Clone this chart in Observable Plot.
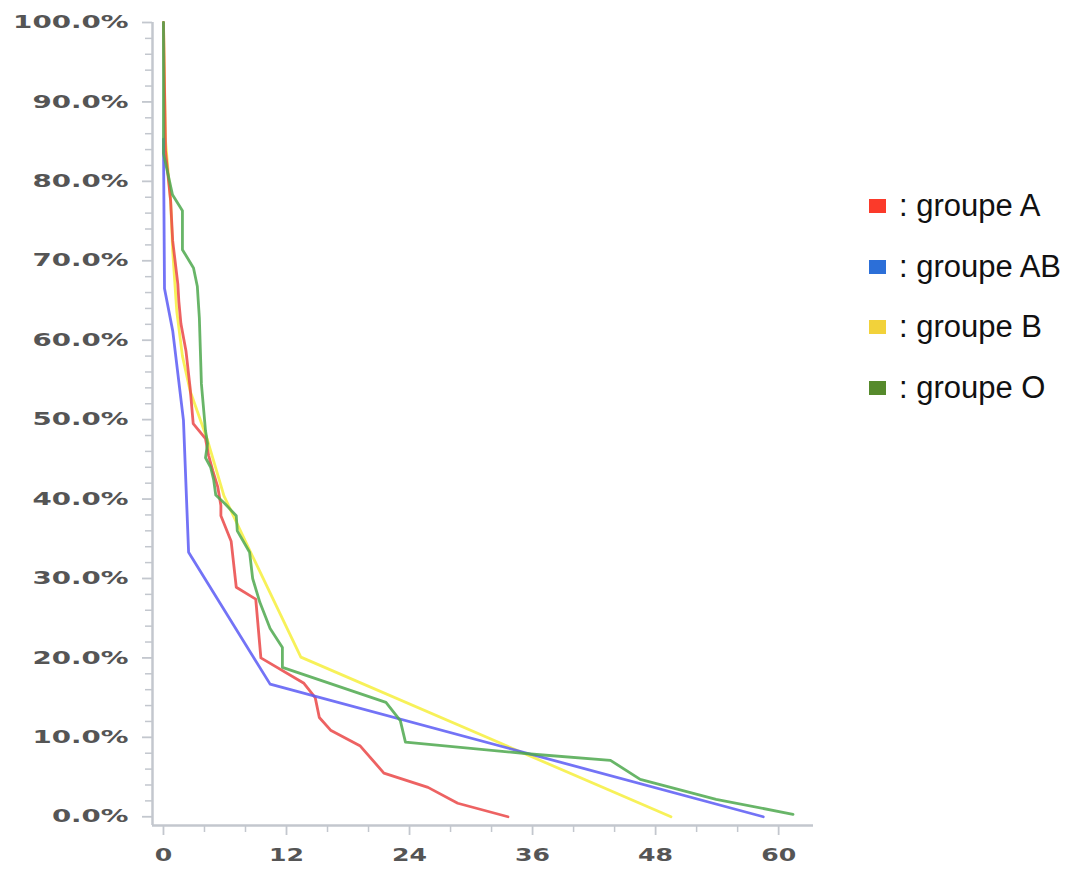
<!DOCTYPE html>
<html>
<head>
<meta charset="utf-8">
<script src="https://cdn.jsdelivr.net/npm/d3@7"></script>
<script src="https://cdn.jsdelivr.net/npm/@observablehq/plot@0.6"></script>
<style>
  html, body { margin: 0; padding: 0; background: #fff; }
  #wrap { position: relative; width: 1075px; height: 870px; }
  #legend { position: absolute; left: 869px; top: 176px; font-family: "Liberation Sans", Arial, Helvetica, sans-serif; font-size: 31px; color: #111; }
  .item { display: flex; align-items: center; height: 60.5px; white-space: nowrap; }
  .sw { width: 17px; height: 14px; margin-right: 13px; flex: none; }
</style>
</head>
<body>
<div id="wrap">
  <div id="chart"></div>
  <div id="legend"></div>
</div>
<script>
// ---- data (months, % survival) ----
const groups = ["groupe A", "groupe AB", "groupe B", "groupe O"];
const lineColors = ["#ea4646", "#5a5af5", "#f6ef3c", "#4ea84e"];
const swatchColors = ["#fb3a2a", "#2c6fd8", "#f2d23a", "#568a2c"];

const monthsA   = [0, 0.2, 0.7, 0.9, 1.4, 1.5, 1.7, 2.2, 2.6, 2.9, 4.1, 4.4, 4.8, 5.3, 5.6, 5.6, 6.6, 7.1, 9.0, 9.5, 13.7, 14.8, 15.2, 16.3, 19.2, 21.5, 25.8, 28.7, 33.6];
const survivalA = [100, 83.8, 77.5, 72.5, 67.1, 64.9, 62.1, 58.6, 54.0, 49.5, 47.6, 45.5, 43.6, 41.5, 39.2, 37.9, 34.7, 28.9, 27.4, 20.0, 16.8, 15.0, 12.5, 10.9, 8.9, 5.5, 3.7, 1.7, 0];

const monthsAB   = [0, 0.1, 0.9, 1.95, 2.45, 10.4, 58.5];
const survivalAB = [85.3, 66.5, 61.2, 49.9, 33.3, 16.7, 0];

const monthsB   = [0, 0.2, 0.7, 0.9, 1.3, 1.85, 2.6, 4.3, 5.9, 8.5, 13.4, 49.5];
const survivalB = [100, 85.1, 77.5, 71.2, 63.6, 58.0, 53.6, 47.4, 40.4, 33.3, 20.1, 0];

const monthsO   = [0, 0, 0.88, 1.85, 1.85, 2.93, 3.3, 3.5, 3.7, 4.1, 4.3, 4.1, 4.6, 4.9, 5.1, 6.0, 7.1, 7.2, 8.4, 8.7, 9.4, 10.4, 11.6, 11.6, 21.7, 23.1, 23.6, 35.8, 43.6, 46.5, 53.9, 61.4];
const survivalO = [100, 83.5, 78.3, 76.3, 71.4, 69.1, 66.8, 62.8, 54.5, 48.6, 47.0, 45.2, 44.0, 42.4, 40.5, 39.4, 37.9, 36.0, 33.3, 30.0, 27.0, 23.7, 21.3, 18.8, 14.4, 12.1, 9.4, 7.9, 7.1, 4.7, 2.2, 0.3];

const xMajor = [0, 12, 24, 36, 48, 60];
const xMinor = [4, 8, 16, 20, 28, 32, 40, 44, 52, 56];
const yMajor = [0, 10, 20, 30, 40, 50, 60, 70, 80, 90, 100];
const yMinor = d3.range(0, 101, 2).filter(v => v % 10 !== 0);

// ---- build table ----
const seriesMonths = [monthsA, monthsAB, monthsB, monthsO];
const seriesSurv = [survivalA, survivalAB, survivalB, survivalO];
const rows = [];
groups.forEach((g, i) => seriesMonths[i].forEach((m, j) => rows.push({group: g, t: m, s: seriesSurv[i][j]})));
const drawOrder = ["groupe B", "groupe A", "groupe AB", "groupe O"];

const xMin = -1.07, xMax = 63.4, yMin = -1.1, yMax = 100;
const axisColor = "#c3c7ce";
const labelColor = "#555";

const chart = Plot.plot({
  width: 1075,
  height: 870,
  marginLeft: 152,
  marginRight: 262,
  marginTop: 22,
  marginBottom: 45,
  x: {domain: [xMin, xMax], axis: null, label: null},
  y: {domain: [yMin, yMax], axis: null, label: null},
  color: {domain: groups, range: lineColors},
  marks: [
    Plot.axisY({ticks: yMajor, tickSize: 10, tickFormat: () => "", label: null, stroke: axisColor, strokeWidth: 1.8}),
    Plot.axisY({ticks: yMinor, tickSize: 7, tickFormat: () => "", label: null, stroke: axisColor, strokeWidth: 1.5}),
    Plot.axisX({ticks: xMajor, tickSize: 10, tickFormat: () => "", label: null, stroke: axisColor, strokeWidth: 1.8}),
    Plot.axisX({ticks: xMinor, tickSize: 7, tickFormat: () => "", label: null, stroke: axisColor, strokeWidth: 1.5}),
    Plot.ruleX([xMin], {y1: yMin, y2: yMax, stroke: axisColor, strokeWidth: 2.5}),
    Plot.ruleY([yMin], {x1: xMin, x2: xMax, stroke: axisColor, strokeWidth: 2.5}),
    Plot.text(yMajor, {x: xMin, y: d => d, text: d => d.toFixed(1) + "%", dx: -24, textAnchor: "end",
      fontSize: 17.5, fontWeight: "bold", fontFamily: "DejaVu Sans", fill: labelColor}),
    Plot.text(xMajor, {x: d => d, y: yMin, text: d => String(d), dy: 30,
      fontSize: 17.5, fontWeight: "bold", fontFamily: "DejaVu Sans", fill: labelColor}),
    ...drawOrder.map(g => Plot.line(rows.filter(r => r.group === g), {
      x: "t", y: "s", stroke: "group", strokeWidth: 2.8, strokeOpacity: 0.85, strokeLinejoin: "round"
    }))
  ]
});
document.getElementById("chart").appendChild(chart);

// stretch tick labels horizontally like the reference
chart.querySelectorAll("text").forEach(t => {
  const s = t.textContent;
  if (/^\d+\.\d%$/.test(s)) {
    t.setAttribute("textLength", (s.length * 19.4 - 1).toFixed(1));
    t.setAttribute("lengthAdjust", "spacingAndGlyphs");
  } else if (/^\d+$/.test(s)) {
    t.setAttribute("textLength", (s.length * 17.5).toFixed(1));
    t.setAttribute("lengthAdjust", "spacingAndGlyphs");
  }
});

// legend
const legend = document.getElementById("legend");
groups.forEach((g, i) => {
  const item = document.createElement("div");
  item.className = "item";
  const sw = document.createElement("span");
  sw.className = "sw";
  sw.style.background = swatchColors[i];
  const lab = document.createElement("span");
  lab.textContent = ": " + g;
  item.appendChild(sw);
  item.appendChild(lab);
  legend.appendChild(item);
});
</script>
</body>
</html>
